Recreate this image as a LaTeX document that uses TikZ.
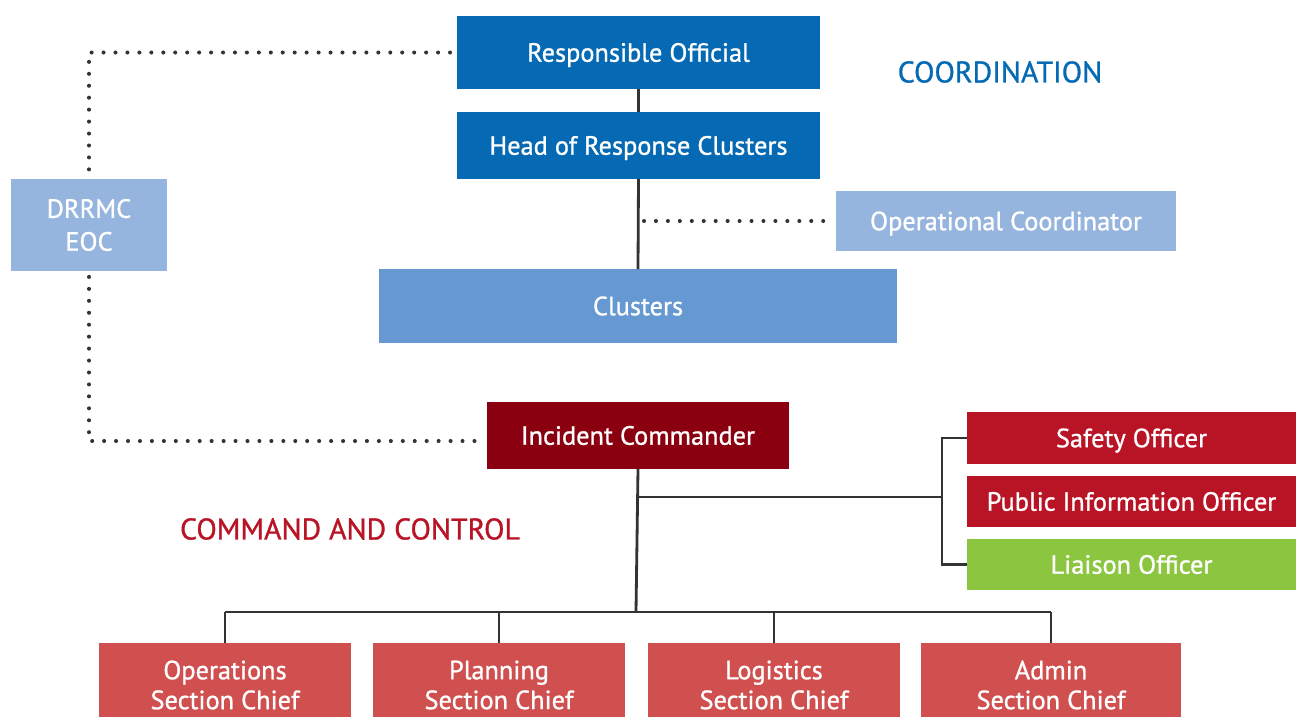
\documentclass[tikz,border=0pt]{standalone}
\usepackage{fontspec}
\setmainfont{PT Sans}[FakeBold=1]
\usetikzlibrary{positioning}
\pgfdeclarelayer{background}
\pgfsetlayers{background,main}
\definecolor{cdarkblue}{HTML}{056AB3}
\definecolor{clightblue}{HTML}{96B5DE}
\definecolor{cmidblue}{HTML}{6699D1}
\definecolor{cdarkred}{HTML}{8A0010}
\definecolor{cred}{HTML}{B91426}
\definecolor{cgreen}{HTML}{8CC640}
\definecolor{csection}{HTML}{D04F4F}
\definecolor{linegray}{HTML}{333333}
\begin{document}
\begin{tikzpicture}[x=0.02cm,y=-0.02cm,inner sep=0pt,outer sep=0pt,
orgbox/.style={rectangle,inner sep=0pt,text=white,align=center,
  font=\fontsize{15}{17}\selectfont},
oneline/.style={orgbox,text height=10.5pt,text depth=0pt},
link/.style={draw=linegray,line width=1.6pt},
dotlink/.style={draw=linegray,line width=2.3pt,line cap=round,dash pattern=on 0pt off 6.8pt},
heading/.style={font=\fontsize{17}{19}\selectfont}]
\useasboundingbox (0,0) rectangle (1296,717);
% coordination side
\node[oneline,fill=cdarkblue,minimum width=7.26cm,minimum height=1.46cm] (ro) at (638.5,52.5) {Responsible Official};
\node[oneline,fill=cdarkblue,minimum width=7.26cm,minimum height=1.34cm] (hrc) at (638.5,145.5) {Head of Response Clusters};
\node[oneline,fill=clightblue,minimum width=6.8cm,minimum height=1.2cm] (oc) at (1006,221) {Operational Coordinator};
\node[oneline,fill=cmidblue,minimum width=10.36cm,minimum height=1.48cm] (cl) at (638,306) {Clusters};
\node[orgbox,fill=clightblue,minimum width=3.12cm,minimum height=1.84cm,
  font=\fontsize{15}{18.7}\selectfont] (eoc) at (89,225) {DRRMC\\EOC};
\node[heading,text=cdarkblue] (coord) at (1000,72) {COORDINATION};
% command side
\node[oneline,fill=cdarkred,minimum width=6.04cm,minimum height=1.34cm] (ic) at (638,435.5) {Incident Commander};
\node[oneline,fill=cred,minimum width=6.58cm,minimum height=1.04cm] (so) at (1131.5,438) {Safety Officer};
\node[oneline,fill=cred,minimum width=6.58cm,minimum height=1.02cm] (pio) at (1131.5,501.5) {Public Information Officer};
\node[oneline,fill=cgreen,minimum width=6.58cm,minimum height=1.02cm] (lo) at (1131.5,564.5) {Liaison Officer};
\node[heading,text=cred] (cmd) at (350,529) {COMMAND AND CONTROL};
\node[orgbox,fill=csection,minimum width=5.04cm,minimum height=1.68cm] (ops) at (225,685) {Operations\\Section Chief};
\node[orgbox,fill=csection,minimum width=5.04cm,minimum height=1.68cm] (pln) at (499,685) {Planning\\Section Chief};
\node[orgbox,fill=csection,minimum width=5.04cm,minimum height=1.68cm] (lgs) at (774,685) {Logistics\\Section Chief};
\node[orgbox,fill=csection,minimum width=5.2cm,minimum height=1.68cm] (adm) at (1051,685) {Admin\\Section Chief};
\coordinate (split) at (636,612);
\coordinate (tee) at (636,497);
\coordinate (brk) at (942,497);
\coordinate (ocfoot) at (644,221);
% solid links
\draw[link] (ro.south) -- (hrc.north);
\draw[link] (hrc.south) -- (cl.north);
\draw[link] (ic.south) -- (split);
\draw[link] (tee) -- (brk);
\draw[link] (so.west) -| (brk) |- (lo.west);
\draw[link] (ops.north |- split) -- (adm.north |- split);
\foreach \n in {ops,pln,lgs,adm}
  \draw[link] (\n.north) -- (\n.north |- split);
% dotted links
\draw[dotlink] (ocfoot) -- ([xshift=-4pt]oc.west);
\begin{pgfonlayer}{background}
\draw[dotlink] ([xshift=-4pt]ro.west) -| (eoc.center) |- ([xshift=-4pt,yshift=-0.11cm]ic.west);
\end{pgfonlayer}
\end{tikzpicture}
\end{document}
